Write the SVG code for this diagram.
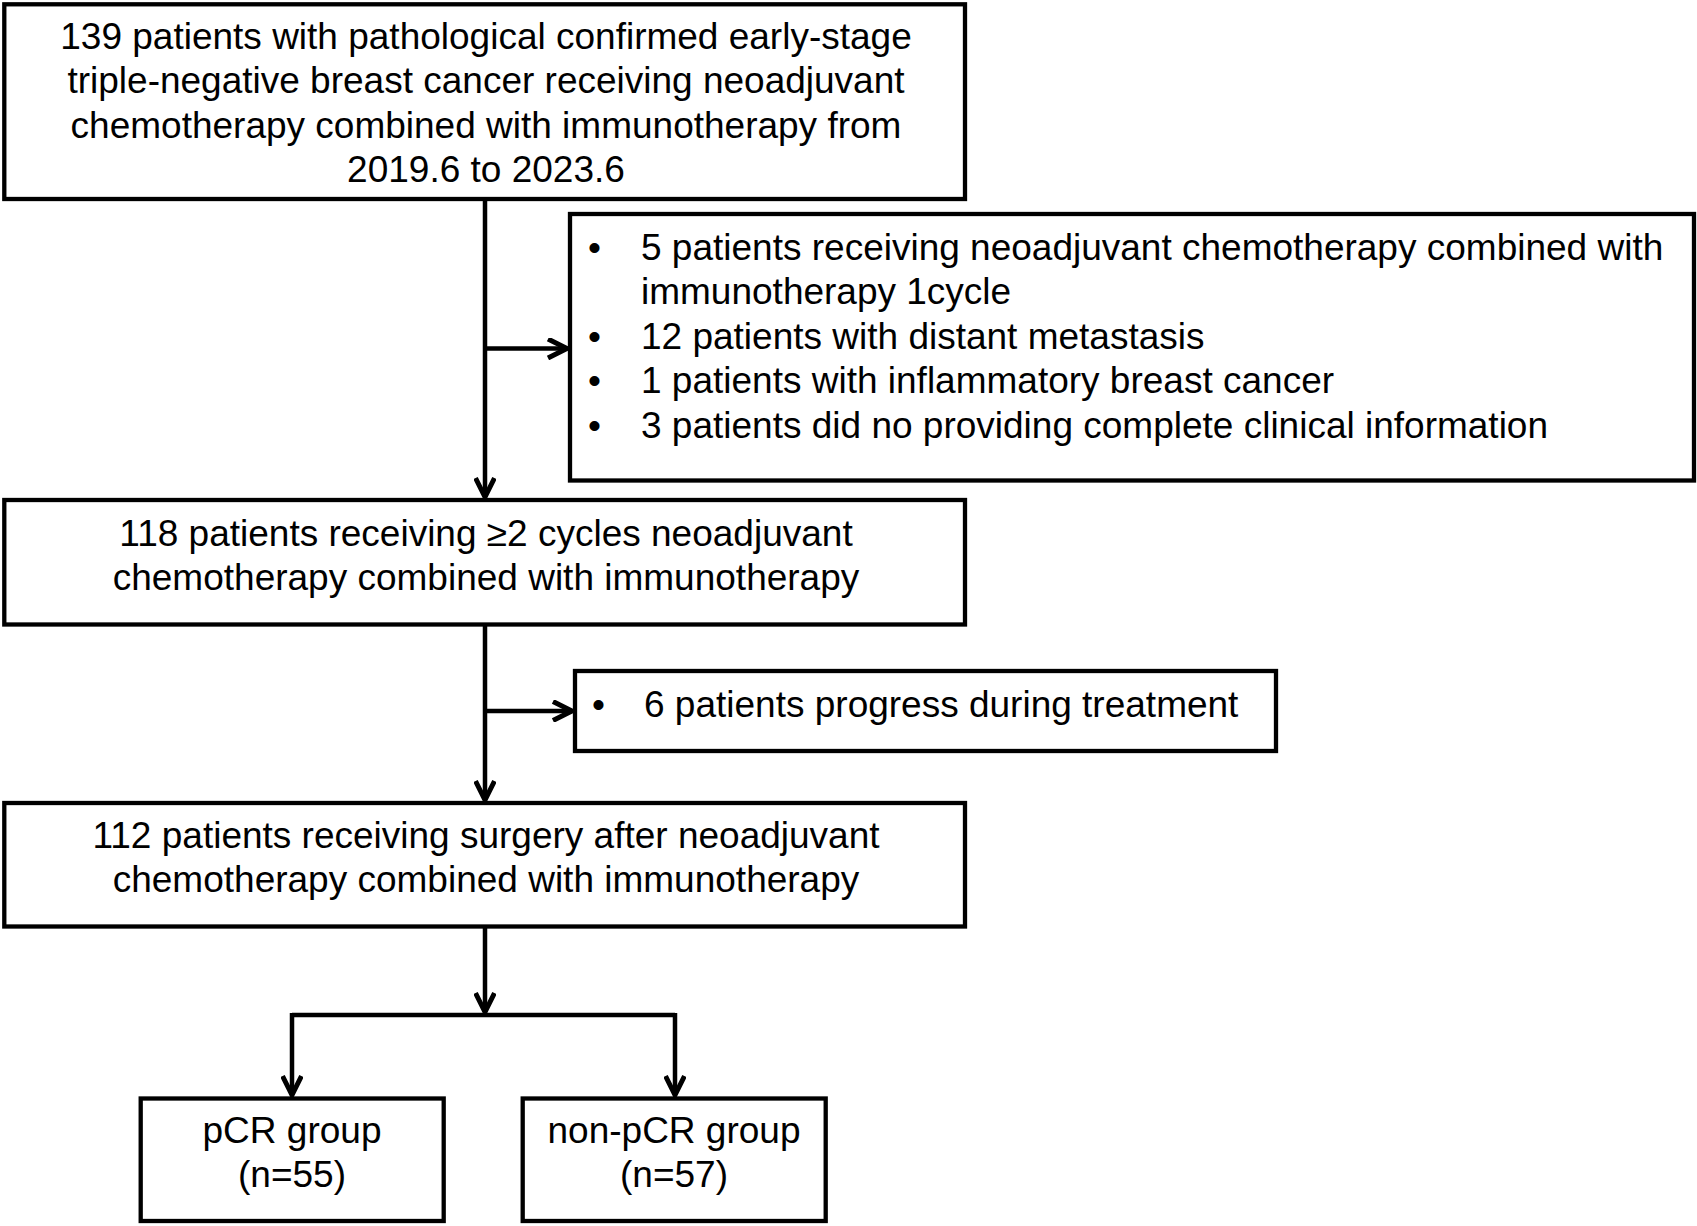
<svg xmlns="http://www.w3.org/2000/svg" width="1697" height="1226" viewBox="0 0 1697 1226">
<style>
.box{fill:#fff;stroke:#000;stroke-width:4.3}
.t{font-family:"Liberation Sans",Arial,sans-serif;font-size:37px;fill:#000}
.c{text-anchor:middle}
.ln{fill:none;stroke:#000;stroke-width:4.5}
</style>
<defs>
<marker id="ah" markerUnits="userSpaceOnUse" viewBox="0 0 24 22" refX="21" refY="11" markerWidth="24" markerHeight="22" orient="auto">
<path d="M2,1.5 L21,11 L2,20.5" fill="none" stroke="#000" stroke-width="5"/>
</marker>
</defs>
<rect width="1697" height="1226" fill="#fff"/>
<g id="connectors">
<path class="ln" d="M485,199 V497" marker-end="url(#ah)"/>
<path class="ln" d="M485,348.5 H567" marker-end="url(#ah)"/>
<path class="ln" d="M485,624.5 V800" marker-end="url(#ah)"/>
<path class="ln" d="M485,711 H572" marker-end="url(#ah)"/>
<path class="ln" d="M485,926.5 V1012" marker-end="url(#ah)"/>
<path class="ln" d="M292,1015 H675"/>
<path class="ln" d="M292,1013 V1095" marker-end="url(#ah)"/>
<path class="ln" d="M675,1013 V1095" marker-end="url(#ah)"/>
</g>
<g id="n1">
<rect class="box" x="4.3" y="4.3" width="960.7" height="194.7"/>
<text class="t c" x="486" y="49">139 patients with pathological confirmed early-stage</text>
<text class="t c" x="486" y="93.4">triple-negative breast cancer receiving neoadjuvant</text>
<text class="t c" x="486" y="137.8">chemotherapy combined with immunotherapy from</text>
<text class="t c" x="486" y="182.2">2019.6 to 2023.6</text>
</g>
<g id="ex1">
<rect class="box" x="570" y="214" width="1124" height="266.5"/>
<text class="t" x="588" y="260">•</text>
<text class="t" x="641" y="260">5 patients receiving neoadjuvant chemotherapy combined with</text>
<text class="t" x="641" y="304.4">immunotherapy 1cycle</text>
<text class="t" x="588" y="348.8">•</text>
<text class="t" x="641" y="348.8">12 patients with distant metastasis</text>
<text class="t" x="588" y="393.2">•</text>
<text class="t" x="641" y="393.2">1 patients with inflammatory breast cancer</text>
<text class="t" x="588" y="437.6">•</text>
<text class="t" x="641" y="437.6">3 patients did no providing complete clinical information</text>
</g>
<g id="n2">
<rect class="box" x="4.3" y="500" width="960.7" height="124.5"/>
<text class="t c" x="486" y="545.5">118 patients receiving ≥2 cycles neoadjuvant</text>
<text class="t c" x="486" y="590">chemotherapy combined with immunotherapy</text>
</g>
<g id="ex2">
<rect class="box" x="575" y="671" width="701" height="80"/>
<text class="t" x="592" y="716.5">•</text>
<text class="t" x="644" y="716.5">6 patients progress during treatment</text>
</g>
<g id="n3">
<rect class="box" x="4.3" y="803" width="960.7" height="123.5"/>
<text class="t c" x="486" y="847.5">112 patients receiving surgery after neoadjuvant</text>
<text class="t c" x="486" y="892">chemotherapy combined with immunotherapy</text>
</g>
<g id="pcr">
<rect class="box" x="140.7" y="1098.5" width="303" height="122.5"/>
<text class="t c" x="292" y="1143">pCR group</text>
<text class="t c" x="292" y="1187">(n=55)</text>
</g>
<g id="npcr">
<rect class="box" x="522.7" y="1098.5" width="303" height="122.5"/>
<text class="t c" x="674" y="1143">non-pCR group</text>
<text class="t c" x="674" y="1187">(n=57)</text>
</g>
</svg>
